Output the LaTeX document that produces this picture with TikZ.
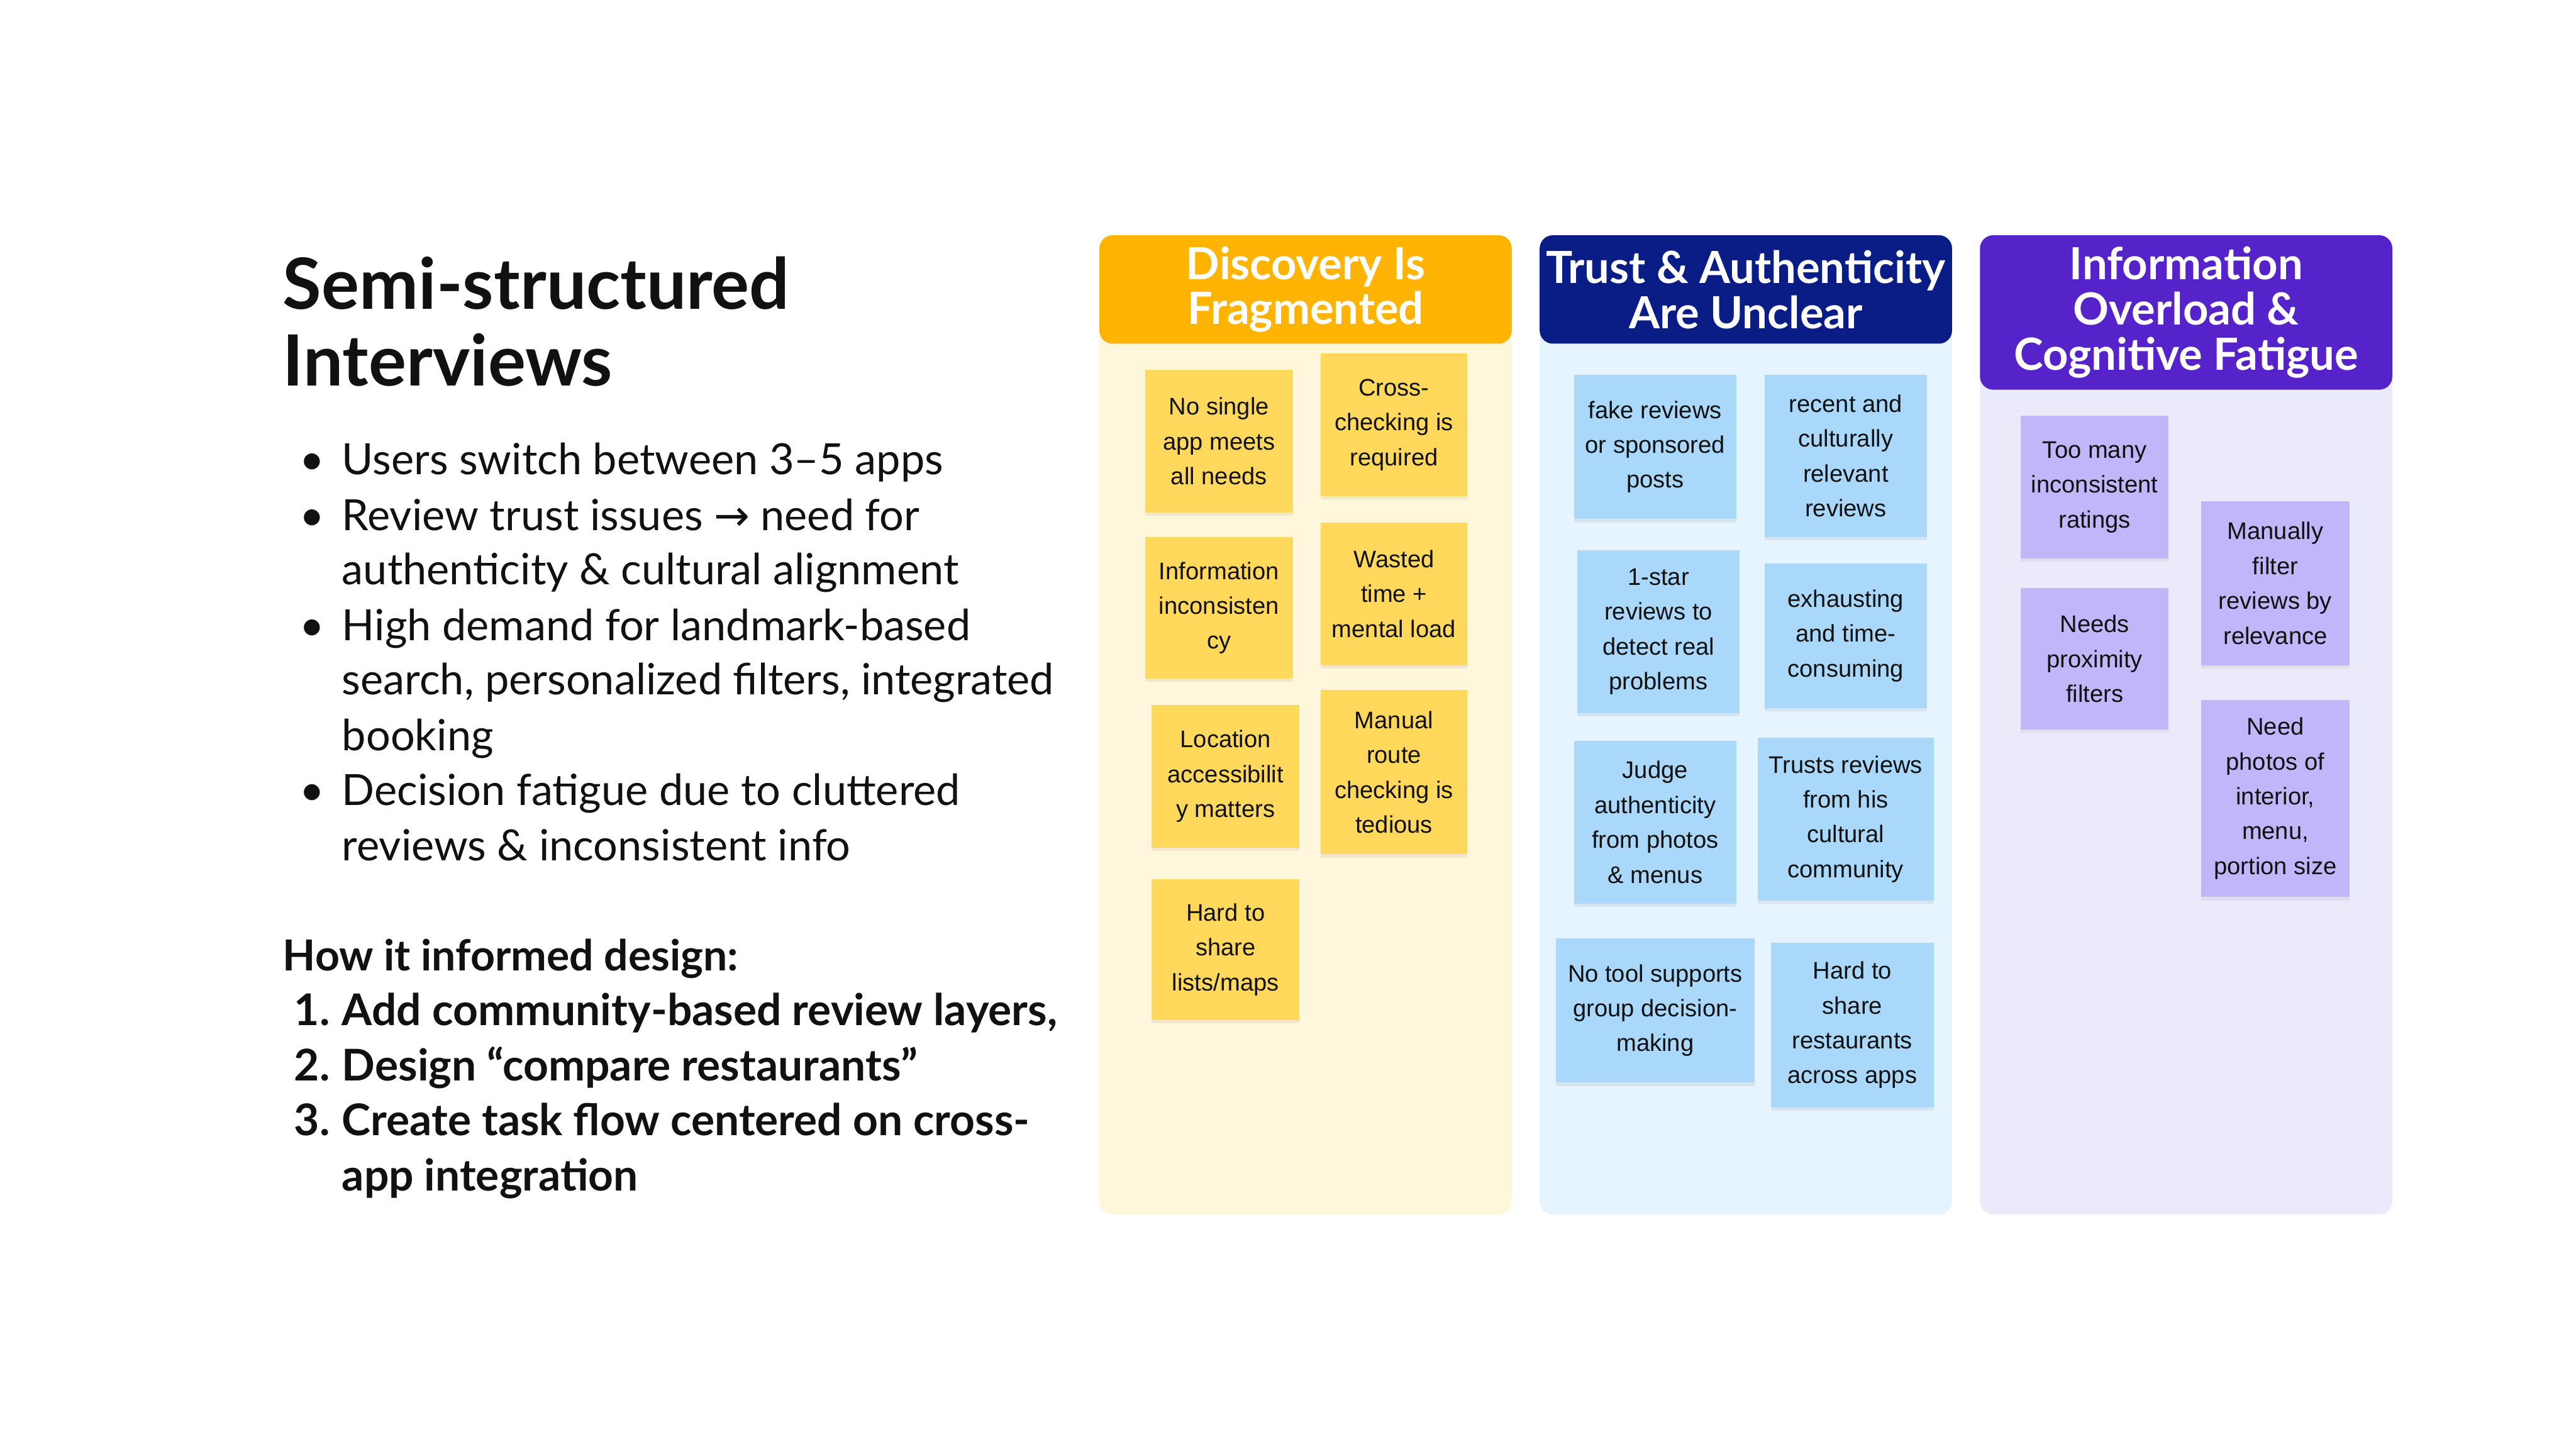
\documentclass[tikz,border=0pt]{standalone}
\usepackage{fontspec}
\setmainfont{Lato}
\newfontfamily\notefont{Liberation Sans}
\newfontfamily\arrowfont{DejaVu Sans}
\usetikzlibrary{shadows}

\definecolor{ink}{HTML}{111111}
\definecolor{hdrorange}{HTML}{FFB302}
\definecolor{hdrnavy}{HTML}{0A1C85}
\definecolor{hdrpurple}{HTML}{5622C9}
\definecolor{bgyellow}{HTML}{FFF7DB}
\definecolor{bgblue}{HTML}{E5F4FE}
\definecolor{bgpurple}{HTML}{EAEAFB}
\definecolor{noteyellow}{HTML}{FFD85C}
\definecolor{noteblue}{HTML}{A9D8FA}
\definecolor{notepurple}{HTML}{C0B6F9}

\tikzset{
  txt/.style={anchor=base west, inner sep=0pt, text=ink, font=\fontsize{26.2}{33.5}\selectfont},
  boldtxt/.style={txt, font=\fontsize{26}{33.5}\selectfont\bfseries},
  listtxt/.style={txt, font=\fontsize{26.6}{33.5}\selectfont\bfseries},
  titletxt/.style={txt, font=\fontsize{43}{47}\selectfont\bfseries},
  panel/.style={anchor=north west, inner sep=0pt, rounded corners=8pt, minimum width=251, minimum height=596},
  header/.style={anchor=north, inner sep=0pt, rounded corners=8pt, minimum width=251,
    text=white, align=center, font=\fontsize{27}{27.5}\selectfont\bfseries},
  note/.style={inner sep=0pt, align=center, text=ink, font=\notefont\fontsize{14.6}{21.2}\selectfont,
    drop shadow={shadow xshift=0pt, shadow yshift=-2pt, opacity=.12}},
  notesize/.style 2 args={minimum width=#1, minimum height=#2},
  ynote/.style={note, fill=noteyellow},
  bnote/.style={note, fill=noteblue},
  pnote/.style={note, fill=notepurple}
}

\begin{document}
\begin{tikzpicture}[x=1pt, y=-1pt]
\fill[white] (0,0) rectangle (1568,882);
\useasboundingbox (0,0) rectangle (1568,882);

% left column
\node[titletxt] (title1) at (172,188) {Semi-structured};
\node[titletxt] (title2) at (172,235) {Interviews};

\foreach \y in {289,323,390,490}
  \node[txt, anchor=base] at (190,\y) {\textbullet};
\node[txt] (b1)  at (208,289) {Users switch between 3–5 apps};
\node[txt] (b2a) at (208,323) {Review trust issues {\arrowfont\fontsize{26}{33.5}\selectfont →} need for};
\node[txt] (b2b) at (208,356) {authenticity \& cultural alignment};
\node[txt] (b3a) at (208,390) {High demand for landmark-based};
\node[txt] (b3b) at (208,423) {search, personalized filters, integrated};
\node[txt] (b3c) at (208,457) {booking};
\node[txt] (b4a) at (208,490) {Decision fatigue due to cluttered};
\node[txt] (b4b) at (208,524) {reviews \& inconsistent info};

\node[boldtxt] (how) at (172,591) {How it informed design:};
\node[listtxt, anchor=base east] at (201,624) {1.};
\node[listtxt, anchor=base east] at (201,658) {2.};
\node[listtxt, anchor=base east] at (201,691) {3.};
\node[listtxt] (n1)  at (208,624) {Add community-based review layers,};
\node[listtxt] (n2)  at (208,658) {Design “compare restaurants”};
\node[listtxt] (n3a) at (208,691) {Create task flow centered on cross-};
\node[listtxt] (n3b) at (208,725) {app integration};

% affinity columns
\node[panel, fill=bgyellow] (p1) at (669,143) {};
\node[panel, fill=bgblue]   (p2) at (937,143) {};
\node[panel, fill=bgpurple] (p3) at (1205,143) {};

\node[header, fill=hdrorange, minimum height=66] (h1) at (p1.north) {Discovery Is\\Fragmented};
\node[header, fill=hdrnavy, minimum height=66]   (h2) at (p2.north) {Trust \& Authenticity\\Are Unclear};
\node[header, fill=hdrpurple, minimum height=94] (h3) at (p3.north) {Information\\Overload \&\\Cognitive Fatigue};

% discovery
\node[ynote, notesize={90}{87}]  (d1) at (742,268.5)   {No single\\app meets\\all needs};
\node[ynote, notesize={89}{87}]  (d2) at (848.5,258.5) {Cross-\\checking is\\required};
\node[ynote, notesize={90}{86}]  (d3) at (742,370)     {Information\\inconsisten\\cy};
\node[ynote, notesize={89}{87}]  (d4) at (848.5,361.5) {Wasted\\time +\\mental load};
\node[ynote, notesize={90}{87}]  (d5) at (746,472.5)   {Location\\accessibilit\\y matters};
\node[ynote, notesize={89}{100}] (d6) at (848.5,470)   {Manual\\route\\checking is\\tedious};
\node[ynote, notesize={90}{86}]  (d7) at (746,578)     {Hard to\\share\\lists/maps};

% trust
\node[bnote, notesize={99}{88}]  (t1) at (1007.5,272)   {fake reviews\\or sponsored\\posts};
\node[bnote, notesize={99}{99}]  (t2) at (1123.5,277.5) {recent and\\culturally\\relevant\\reviews};
\node[bnote, notesize={99}{99}]  (t3) at (1009.5,384.5) {1-star\\reviews to\\detect real\\problems};
\node[bnote, notesize={99}{88}]  (t4) at (1123.5,387)   {exhausting\\and time-\\consuming};
\node[bnote, notesize={99}{99}]  (t5) at (1007.5,500.5) {Judge\\authenticity\\from photos\\\& menus};
\node[bnote, notesize={107}{99}] (t6) at (1123.5,498.5) {Trusts reviews\\from his\\cultural\\community};
\node[bnote, notesize={121}{88}] (t7) at (1007.5,615)   {No tool supports\\group decision-\\making};
\node[bnote, notesize={99}{100}] (t8) at (1127.5,624)   {Hard to\\share\\restaurants\\across apps};

% overload
\node[pnote, notesize={90}{87}]  (c1) at (1275,296.5) {Too many\\inconsistent\\ratings};
\node[pnote, notesize={90}{100}] (c2) at (1385,355)   {Manually\\filter\\reviews by\\relevance};
\node[pnote, notesize={90}{86}]  (c3) at (1275,401)   {Needs\\proximity\\filters};
\node[pnote, notesize={90}{120}] (c4) at (1385,486)   {Need\\photos of\\interior,\\menu,\\portion size};
\end{tikzpicture}
\end{document}
